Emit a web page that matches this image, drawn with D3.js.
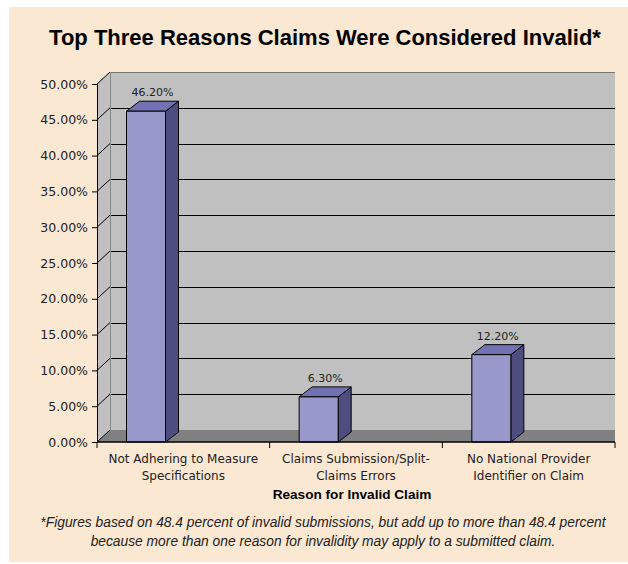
<!DOCTYPE html>
<html>
<head>
<meta charset="utf-8">
<script src="https://cdn.jsdelivr.net/npm/d3@7"></script>
<style>
  body { margin: 0; background: #fff; }
  svg { display: block; }
</style>
</head>
<body>
<div id="chart"></div>
<script>
const categories = [
  ["Not Adhering to Measure", "Specifications"],
  ["Claims Submission/Split-", "Claims Errors"],
  ["No National Provider", "Identifier on Claim"]
];
const values = [0.462, 0.063, 0.122];
const valueLabels = ["46.20%", "6.30%", "12.20%"];
const yTicks = [0, 0.05, 0.10, 0.15, 0.20, 0.25, 0.30, 0.35, 0.40, 0.45, 0.50];

const width = 628, height = 564;
const svg = d3.select("#chart").append("svg")
  .attr("width", width).attr("height", height);

svg.append("rect")
  .attr("x", 9).attr("y", 7)
  .attr("width", width - 9).attr("height", 555)
  .attr("fill", "#fbe8d3");

svg.append("text")
  .attr("x", 325).attr("y", 45)
  .attr("text-anchor", "middle")
  .attr("font-family", "Liberation Sans, Arial, sans-serif")
  .attr("font-weight", "bold")
  .attr("font-size", "22px")
  .attr("fill", "#000")
  .text("Top Three Reasons Claims Were Considered Invalid*");

// plot geometry (front plane + oblique depth)
const left = 97, right = 615;
const depthX = 13, depthY = 12;
const barDX = 13, barDY = 10;

const x = d3.scaleBand().domain(d3.range(categories.length)).range([left, right]);
const y = d3.scaleLinear().domain([0, 0.5]).range([442, 84]);

const walls = svg.append("g");

// back wall
walls.append("rect")
  .attr("x", left + depthX).attr("y", y(0.5) - depthY)
  .attr("width", right - left - depthX).attr("height", y(0) - y(0.5))
  .attr("fill", "#c0c0c0");

// left side wall
walls.append("path")
  .attr("d", `M${left},${y(0)} L${left + depthX},${y(0) - depthY} L${left + depthX},${y(0.5) - depthY} L${left},${y(0.5)} Z`)
  .attr("fill", "#c0c0c0");

// floor
walls.append("path")
  .attr("d", `M${left},${y(0)} L${left + depthX},${y(0) - depthY} L${right},${y(0) - depthY} L${right},${y(0)} Z`)
  .attr("fill", "#808080");

// gridlines on back and side walls
const grid = walls.append("g").attr("stroke", "#000").attr("stroke-width", 1).attr("fill", "none");
grid.selectAll("line.back")
  .data(yTicks.slice(1))
  .enter().append("line")
  .attr("x1", left + depthX).attr("x2", right)
  .attr("y1", d => Math.round(y(d) - depthY) + 0.5)
  .attr("y2", d => Math.round(y(d) - depthY) + 0.5)
  .attr("stroke", d => d === 0.5 ? "#777" : "#000");
grid.selectAll("line.side")
  .data(yTicks)
  .enter().append("line")
  .attr("x1", left).attr("y1", d => y(d))
  .attr("x2", left + depthX).attr("y2", d => y(d) - depthY);
grid.append("line")
  .attr("x1", left + depthX + 0.5).attr("x2", left + depthX + 0.5)
  .attr("y1", y(0) - depthY).attr("y2", y(0.5) - depthY)
  .attr("stroke", "#888");

// bars
const barOffset = 29.5, barW = 39;
const bars = svg.append("g").selectAll("g")
  .data(values)
  .enter().append("g")
  .attr("stroke", "#000").attr("stroke-width", 1).attr("stroke-linejoin", "round");

bars.append("path")
  .attr("d", (d, i) => {
    const x0 = x(i) + barOffset, x1 = x0 + barW, yt = y(d), yb = y(0);
    return `M${x1},${yb} L${x1 + barDX},${yb - barDY} L${x1 + barDX},${yt - barDY} L${x1},${yt} Z`;
  })
  .attr("fill", "#4d4d80");

bars.append("path")
  .attr("d", (d, i) => {
    const x0 = x(i) + barOffset, x1 = x0 + barW, yt = y(d);
    return `M${x0},${yt} L${x0 + barDX},${yt - barDY} L${x1 + barDX},${yt - barDY} L${x1},${yt} Z`;
  })
  .attr("fill", "#7272b3");

bars.append("rect")
  .attr("x", (d, i) => x(i) + barOffset)
  .attr("y", d => y(d))
  .attr("width", barW)
  .attr("height", d => y(0) - y(d))
  .attr("fill", "#9898cb");

svg.append("g").selectAll("text")
  .data(values)
  .enter().append("text")
  .attr("x", (d, i) => x(i) + barOffset + (barW + barDX) / 2)
  .attr("y", d => y(d) - barDY - 5)
  .attr("text-anchor", "middle")
  .attr("font-family", "DejaVu Sans, Verdana, sans-serif")
  .attr("font-size", "11px")
  .attr("fill", "#222")
  .text((d, i) => valueLabels[i]);

// y axis
const yAxis = svg.append("g")
  .attr("transform", `translate(${left},0)`)
  .call(d3.axisLeft(y).tickValues(yTicks).tickSize(5).tickPadding(4)
    .tickFormat(d => (d * 100).toFixed(2) + "%"));
yAxis.select(".domain").attr("stroke", "#000");
yAxis.selectAll("line").attr("stroke", "#000");
yAxis.selectAll("text")
  .attr("font-family", "DejaVu Sans, Verdana, sans-serif")
  .attr("font-size", "12.5px")
  .attr("fill", "#222");

// x axis
const xAxis = svg.append("g")
  .attr("transform", `translate(0,${y(0)})`);
xAxis.append("line")
  .attr("x1", left).attr("x2", right)
  .attr("stroke", "#000").attr("stroke-width", 1.5);
xAxis.selectAll("line.tick")
  .data(d3.range(categories.length + 1))
  .enter().append("line")
  .attr("x1", i => i < categories.length ? x(i) : right)
  .attr("x2", i => i < categories.length ? x(i) : right)
  .attr("y1", 0).attr("y2", 6)
  .attr("stroke", "#000");

const catText = svg.append("g").selectAll("text")
  .data(categories)
  .enter().append("text")
  .attr("text-anchor", "middle")
  .attr("font-family", "DejaVu Sans, Verdana, sans-serif")
  .attr("font-size", "12px")
  .attr("fill", "#222");
catText.selectAll("tspan")
  .data((d, i) => d.map(t => ({ t, i })))
  .enter().append("tspan")
  .attr("x", d => x(d.i) + x.bandwidth() / 2)
  .attr("y", (d, j) => 463 + j * 17)
  .text(d => d.t);

svg.append("text")
  .attr("x", 352).attr("y", 499)
  .attr("text-anchor", "middle")
  .attr("font-family", "Liberation Sans, Arial, sans-serif")
  .attr("font-weight", "bold")
  .attr("font-size", "13.6px")
  .attr("fill", "#000")
  .text("Reason for Invalid Claim");

const notes = [
  "*Figures based on 48.4 percent of invalid submissions, but add up to more than 48.4 percent",
  "because more than one reason for invalidity may apply to a submitted claim."
];
svg.append("g").selectAll("text")
  .data(notes)
  .enter().append("text")
  .attr("x", 323)
  .attr("y", (d, i) => 527 + i * 19)
  .attr("text-anchor", "middle")
  .attr("font-family", "Liberation Sans, Arial, sans-serif")
  .attr("font-style", "italic")
  .attr("font-size", "13.8px")
  .attr("fill", "#222")
  .text(d => d);
</script>
</body>
</html>
